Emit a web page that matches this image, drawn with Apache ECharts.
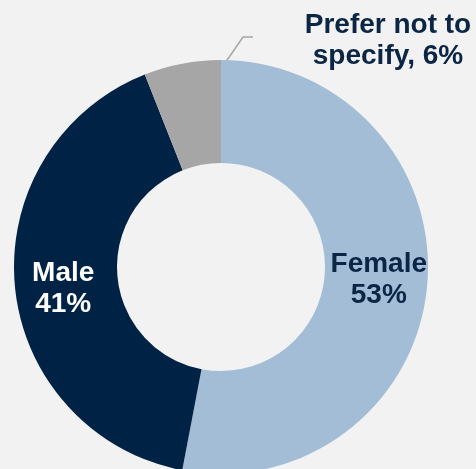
<!DOCTYPE html>
<html>
<head>
<meta charset="utf-8">
<script src="https://cdn.jsdelivr.net/npm/echarts@6/dist/echarts.min.js"></script>
<style>
html,body{margin:0;padding:0;background:#f2f2f2;}
#main{width:476px;height:469px;}
</style>
</head>
<body>
<div id="main"></div>
<script>
const categories = ['Female', 'Male', 'Prefer not to specify'];
const values = [53, 41, 6];
const labelTexts = ['Female\n53%', 'Male\n41%', 'Prefer not to\nspecify, 6%'];
const colors = ['#a3bdd6', '#002345', '#a6a6a6'];

const chart = echarts.init(document.getElementById('main'));
const data = categories.map((c, i) => ({
  name: c,
  value: values[i],
  itemStyle: { color: colors[i] },
  label: i === 2 ? {
    position: 'outside',
    formatter: labelTexts[i],
    color: '#0b2545'
  } : {
    position: 'inside',
    formatter: labelTexts[i],
    color: i === 1 ? '#ffffff' : '#0b2545'
  },
  labelLine: i === 2 ? { show: true, length: 25, length2: 10, smooth: false, lineStyle: { color: '#a6a6a6', width: 1.5 } } : { show: false }
}));

chart.setOption({
  backgroundColor: '#f2f2f2',
  animation: false,
  series: [{
    type: 'pie',
    center: [221, 267],
    radius: [104, 207],
    startAngle: 90,
    clockwise: true,
    avoidLabelOverlap: false,
    label: {
      fontFamily: 'Liberation Sans, Arial, sans-serif',
      fontWeight: 'bold',
      fontSize: 28,
      lineHeight: 31,
      align: 'center'
    },
    labelLayout: function (p) {
      if (p.dataIndex === 2) {
        const r = p.rect;
        const sx = r.x + r.width, sy = r.y + 9;
        const mx = sx + 22, my = r.y - 23;
        return {
          x: 388, y: 41, align: 'center', verticalAlign: 'middle',
          labelLinePoints: [[sx, sy], [mx, my], [mx + 10, my]]
        };
      }
      if (p.dataIndex === 1) return { dy: 7 };
      if (p.dataIndex === 0) return { dy: -2 };
      return {};
    },
    data: data
  }]
});
</script>
</body>
</html>
